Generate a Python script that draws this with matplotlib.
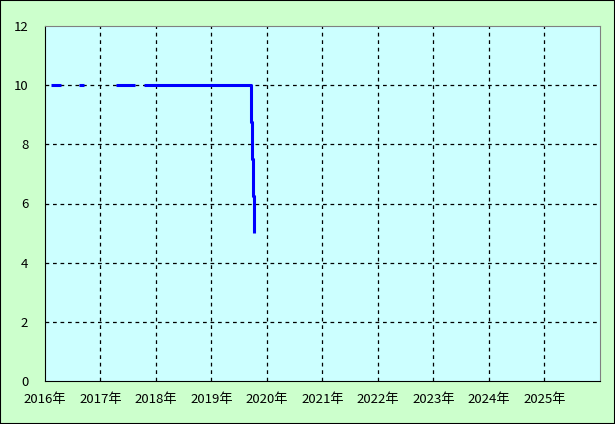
import numpy as np
import matplotlib.pyplot as plt
from matplotlib.patches import Rectangle

plt.rcParams['font.family'] = ['Noto Sans CJK JP', 'DejaVu Sans']

# fractional years, NaN marks a gap in the record
years = [2016.11, 2016.29, np.nan, 2016.61, 2016.70, np.nan, 2017.28, 2017.62, np.nan,
         2017.79, 2019.71, 2019.71, 2019.73, 2019.73, 2019.75, 2019.75, 2019.77, 2019.77]
values = [10, 10, np.nan, 10, 10, np.nan, 10, 10, np.nan,
          10, 10, 8.75, 8.75, 7.5, 7.5, 6.25, 6.25, 5.0]

year_ticks = list(range(2016, 2026))
year_labels = [f"{y}年" for y in year_ticks]
y_ticks = [0, 2, 4, 6, 8, 10, 12]

fig = plt.figure(figsize=(6.15, 4.24), dpi=100, facecolor='#CCFFCC')
ax = fig.add_axes([45 / 615, 43 / 424, 555 / 615, 355 / 424])
ax.set_facecolor('#CCFFFF')

ax.plot(years, values, color='#0000FF', linewidth=2.2, solid_capstyle='butt')

ax.set_xlim(2016, 2026)
ax.set_ylim(0, 12)
ax.set_xticks(year_ticks)
ax.set_xticklabels(year_labels)
ax.set_yticks(y_ticks)
ax.tick_params(length=0, labelsize=9.5, pad=9, colors='black')
ax.tick_params(axis='y', pad=12)

for yr in year_ticks[1:]:
    ax.axvline(yr, color='black', linestyle=(0, (3, 3)), linewidth=0.9, zorder=1)
for v in y_ticks[1:-1]:
    ax.axhline(v, color='black', linestyle=(0, (3, 3)), linewidth=0.9, zorder=1)

for side in ['left', 'bottom']:
    ax.spines[side].set_color('black')
for side in ['top', 'right']:
    ax.spines[side].set_color('#808080')

fig.patches.append(Rectangle((0, 0), 1, 1, transform=fig.transFigure, fill=False,
                             edgecolor='black', linewidth=1.5))

fig.savefig('out.png', dpi=100, facecolor=fig.get_facecolor())
